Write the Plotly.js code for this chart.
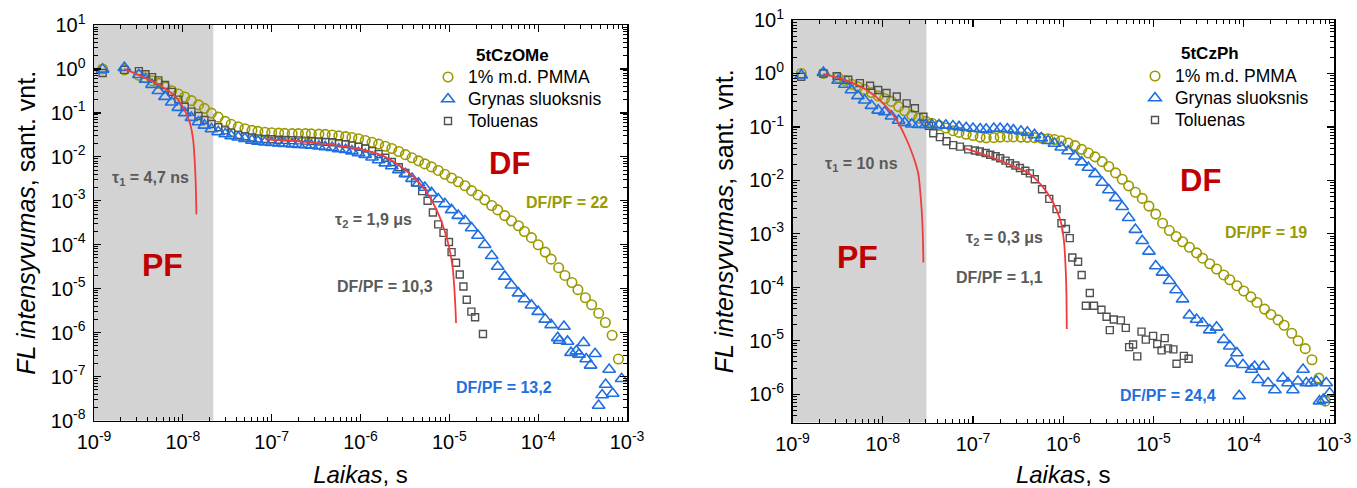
<!DOCTYPE html>
<html><head><meta charset="utf-8">
<script src="https://cdn.plot.ly/plotly-3.0.1.min.js"></script>
<style>html,body{margin:0;padding:0;background:#fff;}#chart{width:1357px;height:488px;}</style>
</head><body><div id="chart"></div>
<script>
// ---------- data ----------
const timeGrid = [1.25e-9,2.2e-9,3.2e-9,3.8e-9,4.5e-9,5.3e-9,6.3e-9,7.5e-9,8.9e-9,1.05e-8,1.25e-8,1.5e-8,1.75e-8,2.1e-8,2.5e-8,3.0e-8,3.5e-8,4.2e-8,5.0e-8,6.0e-8,7.0e-8,8.4e-8,1.0e-7,1.2e-7,1.4e-7,1.7e-7,2.0e-7,2.4e-7,2.8e-7,3.4e-7,4.0e-7,4.8e-7,5.7e-7,6.8e-7,8.0e-7,9.5e-7,1.13e-6,1.35e-6,1.6e-6,1.9e-6,2.25e-6,2.7e-6,3.2e-6,3.8e-6,4.5e-6,5.3e-6,6.3e-6,7.5e-6,8.9e-6,1.06e-5,1.26e-5,1.5e-5,1.78e-5,2.1e-5,2.5e-5,3.0e-5,3.5e-5,4.2e-5,5.0e-5,6.0e-5,7.0e-5,8.4e-5,1.0e-4,1.2e-4,1.4e-4,1.7e-4,2.0e-4,2.4e-4,2.8e-4,3.4e-4,4.0e-4,4.8e-4,5.7e-4,6.8e-4,8.0e-4];

// 5tCzOMe
const pmmaOMe_I = [1.0,0.95,0.72,0.63,0.54,0.47,0.39,0.32,0.27,0.23,0.19,0.152,0.127,0.099,0.080,0.064,0.055,0.048,0.0437,0.040,0.038,0.0363,0.0353,0.0347,0.0342,0.0338,0.0338,0.0337,0.0333,0.0328,0.0324,0.0314,0.030,0.0288,0.0275,0.0258,0.0235,0.0214,0.0195,0.0174,0.0155,0.0132,0.0112,0.0095,0.0081,0.0069,0.0059,0.0049,0.0040,0.0033,0.0027,0.0022,0.0017,0.00135,0.00105,7.8e-4,6.2e-4,4.6e-4,3.5e-4,2.7e-4,2.0e-4,1.45e-4,1.0e-4,6.8e-5,4.7e-5,3.0e-5,2.0e-5,1.38e-5,9.5e-6,6.2e-6,4.3e-6,2.75e-6,1.7e-6,8.7e-7,2.5e-7];
const neatOMe_I = [0.98,1.07,0.74,0.575,0.44,0.32,0.234,0.174,0.132,0.10,0.078,0.062,0.052,0.043,0.037,0.033,0.030,0.0279,0.0257,0.0237,0.0224,0.0214,0.0209,0.0204,0.020,0.0195,0.019,0.0186,0.0182,0.0174,0.0168,0.0162,0.0151,0.0145,0.0135,0.0123,0.0112,0.0098,0.0085,0.0072,0.0062,0.0050,0.0041,0.0032,0.0025,0.0020,0.00151,0.0011,8.5e-4,6.2e-4,4.6e-4,3.5e-4,2.4e-4,1.62e-4,1.0e-4,5.6e-5,3.2e-5,1.9e-5,1.2e-5,7.9e-6,5.8e-6,4.2e-6,3.0e-6,2.0e-6,1.5e-6];
const neatOMeTail_t = [1.66e-4,1.74e-4,1.95e-4,2.14e-4,2.34e-4,2.69e-4,2.88e-4,3.24e-4,3.47e-4,3.89e-4,4.37e-4,4.79e-4,5.25e-4,5.75e-4,6.3e-4,6.9e-4,8.7e-4];
const neatOMeTail_I = [7.6e-7,6.6e-7,1.38e-6,6.3e-7,3.5e-7,3.8e-7,3.2e-7,5.9e-7,2.5e-7,1.8e-7,3.3e-7,2.2e-8,3.8e-8,6.6e-8,1.45e-7,4.1e-8,8.9e-8];
const tolOMe_I = [0.81,0.95,0.89,0.76,0.65,0.55,0.43,0.30,0.20,0.138,0.107,0.085,0.069,0.056,0.047,0.040,0.0355,0.0316,0.0295,0.0275,0.0263,0.0254,0.0251,0.0245,0.0243,0.024,0.0237,0.0234,0.0229,0.0224,0.0219,0.0214,0.0204,0.0195,0.0182,0.017,0.0155,0.0135,0.0115,0.0095,0.0076,0.0058,0.0043];
const tolOMeTail_t = [4.11e-6,4.95e-6,5.69e-6,6.53e-6,7.5e-6,8.6e-6,9.9e-6,1.06e-5,1.19e-5,1.31e-5,1.44e-5,1.57e-5,1.77e-5,1.95e-5,2.39e-5];
const tolOMeTail_I = [2.6e-3,1.66e-3,1.0e-3,5.4e-4,2.9e-4,1.86e-4,1.15e-4,6.8e-5,3.9e-5,2.1e-5,1.12e-5,5.6e-6,3.0e-6,2.24e-6,9.3e-7];
const fitPfOMe_t = [2.19e-9,3.65e-9,5.8e-9,7.66e-9,9.6e-9,1.107e-8,1.213e-8,1.306e-8,1.358e-8,1.396e-8,1.422e-8];
const fitPfOMe_I = [1.0,0.645,0.40,0.27,0.158,0.093,0.055,0.025,0.0087,0.0026,4.9e-4];
const fitDfOMe_t = [8.5e-8,2.34e-7,5.9e-7,1.03e-6,1.79e-6,3.12e-6,4.95e-6,7.16e-6,9.46e-6,1.086e-5,1.159e-5,1.19e-5];
const fitDfOMe_I = [0.0251,0.0219,0.0177,0.0148,0.0105,0.0052,0.00216,6.3e-4,1.32e-4,3.2e-5,5.6e-6,1.66e-6];

// 5tCzPh
const pmmaPh_I = [1.0,1.0,0.83,0.74,0.63,0.56,0.50,0.44,0.38,0.34,0.30,0.24,0.20,0.166,0.145,0.127,0.117,0.107,0.0955,0.085,0.079,0.073,0.069,0.0645,0.0624,0.063,0.0645,0.065,0.065,0.0645,0.0638,0.063,0.0617,0.060,0.058,0.055,0.050,0.0447,0.038,0.0324,0.0275,0.0224,0.0182,0.0138,0.0105,0.0079,0.006,0.0046,0.0033,0.00234,0.00158,0.00115,8.9e-4,7.1e-4,5.6e-4,4.4e-4,3.5e-4,2.75e-4,2.2e-4,1.7e-4,1.38e-4,1.07e-4,8.5e-5,6.6e-5,5.2e-5,3.9e-5,3.1e-5,2.45e-5,1.95e-5,1.38e-5,1.0e-5,7.1e-6,4.4e-6,2.0e-6,7.4e-7];
const neatPh_I = [0.93,1.035,0.74,0.62,0.49,0.38,0.316,0.25,0.204,0.19,0.158,0.132,0.12,0.112,0.11,0.11,0.11,0.108,0.107,0.1035,0.10,0.0966,0.0933,0.0912,0.090,0.0933,0.0933,0.0912,0.087,0.083,0.079,0.071,0.0617,0.055,0.049,0.0417,0.0355,0.0282,0.0219,0.0174,0.0132,0.0091,0.0066,0.0047,0.0032,0.0020,0.0012,7.4e-4,4.7e-4,2.5e-4,1.9e-4,1.32e-4,8.9e-5,6.0e-5,3.0e-5,2.5e-5,2.14e-5,1.58e-5,1.78e-5,1.05e-5,7.9e-6,5.9e-6];
const neatPhTail_t = [7.3e-5,8.9e-5,9.8e-5,1.22e-4,1.32e-4,1.45e-4,1.64e-4,1.86e-4,2.21e-4,2.72e-4,3.09e-4,3.5e-4,3.98e-4,4.54e-4,4.94e-4,5.6e-4,6.4e-4,6.9e-4,7.6e-4,8.2e-4,8.95e-4];
const neatPhTail_I = [3.8e-6,9.3e-7,3.55e-6,2.9e-6,3.3e-6,1.86e-6,3.3e-6,1.62e-6,1.2e-6,2.0e-6,1.62e-6,1.2e-6,1.74e-6,2.9e-6,1.62e-6,1.62e-6,1.74e-6,7.4e-7,7.9e-7,1.62e-6,1.05e-6];
const tolPh_t = [1.25e-9,2.2e-9,3.09e-9,4.15e-9,5.58e-9,7.24e-9,8.9e-9,1.10e-8,1.43e-8,1.84e-8,2.27e-8,2.82e-8,3.24e-8,3.63e-8,4.30e-8,5.09e-8,6.03e-8,7.16e-8,8.85e-8,1.05e-7,1.19e-7,1.38e-7,1.55e-7,1.78e-7,2.0e-7,2.29e-7,2.57e-7,2.95e-7,3.31e-7,3.8e-7,4.27e-7,4.84e-7,5.82e-7,7.0e-7,8.43e-7,9.55e-7,1.07e-6,1.18e-6,1.26e-6,1.46e-6,1.60e-6,1.78e-6,1.97e-6,2.19e-6,2.65e-6,3.02e-6,3.28e-6,3.63e-6,4.35e-6,4.93e-6,5.37e-6,5.94e-6,6.61e-6,7.36e-6,8.22e-6,9.9e-6,1.10e-5,1.23e-5,1.33e-5,1.45e-5,1.66e-5,1.80e-5,2.17e-5,2.45e-5];
const tolPh_I = [0.87,1.0,0.89,0.76,0.66,0.59,0.49,0.43,0.37,0.275,0.224,0.155,0.105,0.076,0.0645,0.054,0.0457,0.0427,0.038,0.0363,0.0347,0.0324,0.0302,0.0282,0.026,0.0234,0.0209,0.019,0.017,0.0151,0.0135,0.0105,0.0068,0.0045,0.0029,0.00158,0.00123,8.3e-4,3.6e-4,3.0e-4,1.7e-4,4.5e-5,7.8e-5,4.5e-5,3.8e-5,2.8e-5,1.58e-5,2.5e-5,2.4e-5,1.74e-5,7.6e-6,8.5e-6,5.1e-6,1.48e-5,1.05e-5,1.23e-5,8.7e-6,6.6e-6,1.12e-5,7.2e-6,6.9e-6,3.7e-6,5.2e-6,4.6e-6];
const fitPfPh_t = [2.19e-9,3.98e-9,6.64e-9,1.014e-8,1.426e-8,1.84e-8,2.18e-8,2.47e-8,2.63e-8,2.75e-8,2.82e-8];
const fitPfPh_I = [0.977,0.733,0.49,0.275,0.135,0.0575,0.0279,0.0136,0.005,0.00158,2.9e-4];
const fitDfPh_t = [8.3e-8,1.55e-7,2.57e-7,4.17e-7,5.82e-7,7.69e-7,9.25e-7,1.014e-6,1.06e-6,1.084e-6,1.094e-6];
const fitDfPh_I = [0.0394,0.0279,0.0195,0.0135,0.0079,0.0039,0.00186,7.9e-4,2.5e-4,7.9e-5,1.66e-5];

// prompt-fluorescence (shaded) window end
const pfEndOMe = 2.2e-8;
const pfEndPh = 3.05e-8;

// labels
const seriesNames = ['1% m.d. PMMA','Grynas sluoksnis','Toluenas'];
const xTickVals = [1e-9,1e-8,1e-7,1e-6,1e-5,1e-4,1e-3];
const xTickText = ['10<sup>-9</sup>','10<sup>-8</sup>','10<sup>-7</sup>','10<sup>-6</sup>','10<sup>-5</sup>','10<sup>-4</sup>','10<sup>-3</sup>'];
const yTickValsOMe = [1e-8,1e-7,1e-6,1e-5,1e-4,1e-3,1e-2,1e-1,1,10];
const yTickTextOMe = ['10<sup>-8</sup>','10<sup>-7</sup>','10<sup>-6</sup>','10<sup>-5</sup>','10<sup>-4</sup>','10<sup>-3</sup>','10<sup>-2</sup>','10<sup>-1</sup>','10<sup>0</sup>','10<sup>1</sup>'];
const yTickValsPh = [1e-6,1e-5,1e-4,1e-3,1e-2,1e-1,1,10];
const yTickTextPh = ['10<sup>-6</sup>','10<sup>-5</sup>','10<sup>-4</sup>','10<sup>-3</sup>','10<sup>-2</sup>','10<sup>-1</sup>','10<sup>0</sup>','10<sup>1</sup>'];

// ---------- styling ----------
const FONT = 'Liberation Sans, Arial, Helvetica, sans-serif';
const C_OLIVE = '#9a9a00', C_BLUE = '#1f6fe0', C_GRAY = '#505050', C_RED = '#f03c3c';
const C_TXT = '#5a5a5a', C_DARKRED = '#c00000';
const W = 1357, H = 488, ML = 94, MR = 23, MT = 20, MB = 65;
const PW = W - ML - MR, PH = H - MT - MB;
const fx = p => (p - ML) / PW;
const fy = p => (H - MB - p) / PH;

function minorVals(lo, hi) {
  const v = [];
  for (let e = lo; e < hi; e++) for (let m = 2; m <= 9; m++) v.push(m * Math.pow(10, e));
  return v;
}

function axis(extra) {
  return Object.assign({
    type: 'log', tickmode: 'array',
    ticks: 'inside', ticklen: 7, tickwidth: 1.3, tickcolor: '#000',
    showline: true, linecolor: '#000', linewidth: 1.5, mirror: 'allticks',
    showgrid: false, zeroline: false, automargin: false, fixedrange: true,
    tickfont: {family: FONT, size: 20, color: '#000'},
    ticklabelstandoff: 3
  }, extra);
}

const circ = {symbol: 'circle-open', size: 9.5, color: C_OLIVE, line: {width: 1.6, color: C_OLIVE}};
const tri = {symbol: 'triangle-up-open', size: 11, color: C_BLUE, line: {width: 1.6, color: C_BLUE}};
const sq = {symbol: 'square-open', size: 7, color: C_GRAY, line: {width: 1.4, color: C_GRAY}};
const legName = s => '<span style="font-size:17.5px">' + s + '</span>';

function panel(xa, ya, leg, d) {
  return [
    {x: timeGrid.slice(0, d.pmma.length), y: d.pmma, xaxis: xa, yaxis: ya, mode: 'markers', type: 'scatter',
     name: legName(seriesNames[0]), marker: circ, legend: leg, legendrank: 1},
    {x: d.tol_t, y: d.tol_I, xaxis: xa, yaxis: ya, mode: 'markers', type: 'scatter',
     name: legName(seriesNames[2]), marker: sq, legend: leg, legendrank: 3},
    {x: d.neat_t, y: d.neat_I, xaxis: xa, yaxis: ya, mode: 'markers', type: 'scatter',
     name: legName(seriesNames[1]), marker: tri, legend: leg, legendrank: 2},
    {x: d.f1t, y: d.f1I, xaxis: xa, yaxis: ya, mode: 'lines', type: 'scatter', showlegend: false,
     line: {color: C_RED, width: 1.8, shape: 'spline', smoothing: 0.8}, hoverinfo: 'skip'},
    {x: d.f2t, y: d.f2I, xaxis: xa, yaxis: ya, mode: 'lines', type: 'scatter', showlegend: false,
     line: {color: C_RED, width: 1.8, shape: 'spline', smoothing: 0.8}, hoverinfo: 'skip'}
  ];
}

const traces = [].concat(
  panel('x', 'y', 'legend', {
    pmma: pmmaOMe_I,
    tol_t: timeGrid.slice(0, tolOMe_I.length).concat(tolOMeTail_t), tol_I: tolOMe_I.concat(tolOMeTail_I),
    neat_t: timeGrid.slice(0, neatOMe_I.length).concat(neatOMeTail_t), neat_I: neatOMe_I.concat(neatOMeTail_I),
    f1t: fitPfOMe_t, f1I: fitPfOMe_I, f2t: fitDfOMe_t, f2I: fitDfOMe_I
  }),
  panel('x2', 'y2', 'legend2', {
    pmma: pmmaPh_I,
    tol_t: tolPh_t, tol_I: tolPh_I,
    neat_t: timeGrid.slice(0, neatPh_I.length).concat(neatPhTail_t), neat_I: neatPh_I.concat(neatPhTail_I),
    f1t: fitPfPh_t, f1I: fitPfPh_I, f2t: fitDfPh_t, f2I: fitDfPh_I
  })
);

function ann(x, y, text, color, size, anchor) {
  return {xref: 'paper', yref: 'paper', x: fx(x), y: fy(y), text: text, showarrow: false,
    xanchor: anchor || 'center', yanchor: 'middle',
    font: {family: FONT, size: size, color: color}};
}

const yTitle = {text: '<i>FL intensyvumas</i>, sant. vnt.', font: {family: FONT, size: 25, color: '#000'}, standoff: 8};
const xTitle = {text: '<i>Laikas</i>, s', font: {family: FONT, size: 24, color: '#000'}, standoff: 14};
const minorStyle = {tickmode: 'array', ticks: 'inside', ticklen: 4, tickwidth: 1, tickcolor: '#000', showgrid: false};

const layout = {
  width: W, height: H,
  margin: {l: ML, r: MR, t: MT, b: MB, pad: 0},
  paper_bgcolor: '#fff', plot_bgcolor: '#fff',
  font: {family: FONT, color: '#000'},
  xaxis: axis({domain: [fx(94), fx(627)], range: [-9, -3], anchor: 'y', tickvals: xTickVals, ticktext: xTickText,
    minor: Object.assign({tickvals: minorVals(-9, -3)}, minorStyle), title: xTitle}),
  yaxis: axis({domain: [fy(420.5), fy(25)], range: [-8, 1], anchor: 'x', tickvals: yTickValsOMe, ticktext: yTickTextOMe,
    minor: Object.assign({tickvals: minorVals(-8, 1)}, minorStyle), title: yTitle}),
  xaxis2: axis({domain: [fx(792.5), fx(1334)], range: [-9, -3], anchor: 'y2', tickvals: xTickVals, ticktext: xTickText,
    minor: Object.assign({tickvals: minorVals(-9, -3)}, minorStyle), title: xTitle}),
  yaxis2: axis({domain: [fy(422.5), fy(20)], range: [-6.53, 1], anchor: 'x2', tickvals: yTickValsPh, ticktext: yTickTextPh,
    minor: Object.assign({tickvals: minorVals(-7, 1)}, minorStyle), title: yTitle}),
  shapes: [
    {type: 'rect', xref: 'x', yref: 'y domain', x0: 1e-9, x1: pfEndOMe, y0: 0, y1: 1, fillcolor: '#d3d3d3', line: {width: 0}, layer: 'below'},
    {type: 'rect', xref: 'x2', yref: 'y2 domain', x0: 1e-9, x1: pfEndPh, y0: 0, y1: 1, fillcolor: '#d3d3d3', line: {width: 0}, layer: 'below'}
  ],
  legend: {x: fx(428), y: fy(61), xanchor: 'left', yanchor: 'top', bgcolor: 'rgba(0,0,0,0)', borderwidth: 0,
    font: {family: FONT, size: 14.6, color: '#000'}, itemwidth: 30, tracegroupgap: 0},
  legend2: {x: fx(1135), y: fy(60), xanchor: 'left', yanchor: 'top', bgcolor: 'rgba(0,0,0,0)', borderwidth: 0,
    font: {family: FONT, size: 14.6, color: '#000'}, itemwidth: 30, tracegroupgap: 0},
  annotations: [
    ann(474, 55, '<b>5tCzOMe</b>', '#000', 17, 'left'),
    ann(150, 179, '<b>τ<sub>1</sub> = 4,7 ns</b>', C_TXT, 16),
    ann(162, 265, '<b>PF</b>', C_DARKRED, 32),
    ann(509, 163, '<b>DF</b>', C_DARKRED, 31),
    ann(567, 203, '<b>DF/PF = 22</b>', C_OLIVE, 16),
    ann(373, 220, '<b>τ<sub>2</sub> = 1,9 μs</b>', C_TXT, 16),
    ann(385, 286, '<b>DF/PF = 10,3</b>', C_TXT, 16),
    ann(504, 387, '<b>DF/PF = 13,2</b>', C_BLUE, 16),
    ann(1179, 53, '<b>5tCzPh</b>', '#000', 17, 'left'),
    ann(861, 165, '<b>τ<sub>1</sub> = 10 ns</b>', C_TXT, 16),
    ann(857, 257, '<b>PF</b>', C_DARKRED, 32),
    ann(1200, 180, '<b>DF</b>', C_DARKRED, 31),
    ann(1266, 232, '<b>DF/PF = 19</b>', C_OLIVE, 16),
    ann(1004, 238, '<b>τ<sub>2</sub> = 0,3 μs</b>', C_TXT, 16),
    ann(1000, 277, '<b>DF/PF = 1,1</b>', C_TXT, 16),
    ann(1168, 395, '<b>DF/PF = 24,4</b>', C_BLUE, 16)
  ]
};

Plotly.newPlot('chart', traces, layout, {displayModeBar: false, staticPlot: true});
</script>
</body></html>
